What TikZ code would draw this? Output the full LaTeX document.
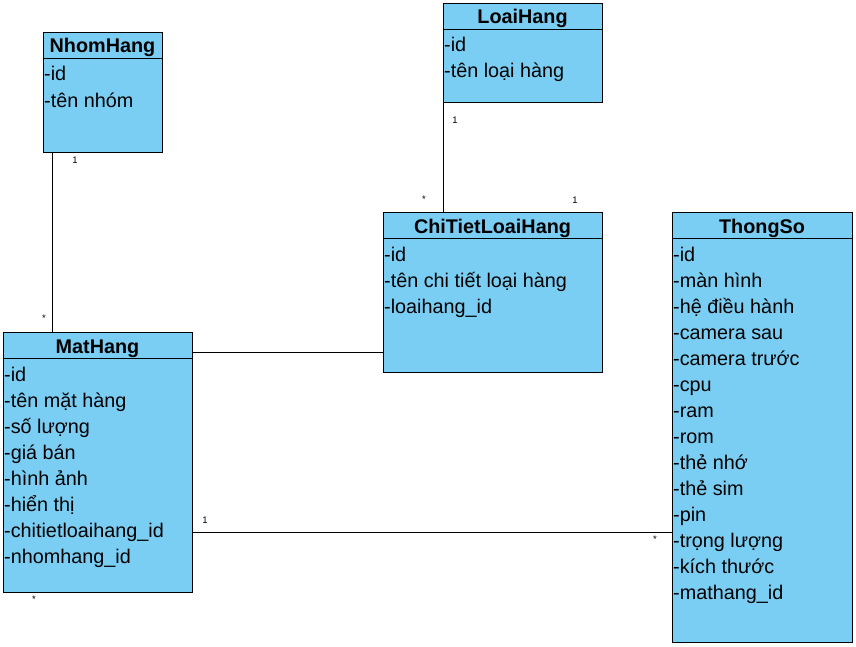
\documentclass[tikz,border=0pt]{standalone}
\usepackage{fontspec}
\setmainfont{Liberation Sans}
\definecolor{boxblue}{RGB}{122,206,244}
\begin{document}
\begin{tikzpicture}[x=1pt,y=-1pt,
  box/.style={draw=black, fill=boxblue, line width=1pt, anchor=north west, inner sep=0pt},
  title/.style={font=\fontsize{19.8}{21}\selectfont\bfseries, inner sep=0pt, anchor=base},
  attr/.style={font=\fontsize{19.8}{21}\selectfont, inner sep=0pt, anchor=base west},
  mult/.style={font=\fontsize{9.5}{10}\selectfont, inner sep=0pt},
  conn/.style={draw=black, line width=1pt}]
\useasboundingbox (0,0) rectangle (856,646);
\fill[white] (0,0) rectangle (856,646);

% NhomHang
\node[box, minimum width=119pt, minimum height=120pt] (nh) at (43,32) {};
\draw[conn] (43,58) -- (162,58);
\node[title] (nht) at (102.5,52) {NhomHang};
\node[attr] (nh1) at (44,80) {-id};
\node[attr] (nh2) at (44,107) {-tên nhóm};

% LoaiHang
\node[box, minimum width=159pt, minimum height=99pt] (lh) at (443,3) {};
\draw[conn] (443,29) -- (602,29);
\node[title] (lht) at (522.5,23) {LoaiHang};
\node[attr] (lh1) at (444,51) {-id};
\node[attr] (lh2) at (444,77) {-tên loại hàng};

% ChiTietLoaiHang
\node[box, minimum width=219pt, minimum height=160pt] (ct) at (383,212) {};
\draw[conn] (383,238) -- (602,238);
\node[title] (ctt) at (492.5,233) {ChiTietLoaiHang};
\node[attr] (ct1) at (384,261) {-id};
\node[attr] (ct2) at (384,287) {-tên chi tiết loại hàng};
\node[attr] (ct3) at (384,313) {-loaihang\_id};

% MatHang
\node[box, minimum width=189pt, minimum height=260pt] (mh) at (3,332) {};
\draw[conn] (3,358) -- (192,358);
\node[title] (mht) at (97.5,353) {MatHang};
\foreach \t [count=\i from 0] in {-id,-tên mặt hàng,-số lượng,-giá bán,-hình ảnh,-hiển thị,-chitietloaihang\_id,-nhomhang\_id}
  \node[attr] (mh\i) at (4,381+26*\i) {\t};

% ThongSo
\node[box, minimum width=180pt, minimum height=430pt] (ts) at (672,212) {};
\draw[conn] (672,238) -- (852,238);
\node[title] (tst) at (762,233) {ThongSo};
\foreach \t [count=\i from 0] in {-id,-màn hình,-hệ điều hành,-camera sau,-camera trước,-cpu,-ram,-rom,-thẻ nhớ,-thẻ sim,-pin,-trọng lượng,-kích thước,-mathang\_id}
  \node[attr] (ts\i) at (673,261+26*\i) {\t};

% connectors
\coordinate (c1) at (52,0);
\coordinate (y1) at (0,352);
\coordinate (y2) at (0,532);
\draw[conn] (nh.south -| c1) -- (mh.north -| c1);
\draw[conn] (lh.south west) -- (lh.south west |- ct.north);
\draw[conn] (mh.east |- y1) -- (ct.west |- y1);
\draw[conn] (mh.east |- y2) -- (ts.west |- y2);

% multiplicities
\node[mult] (m1) at (75,160) {1};
\node[mult] (m2) at (44,318) {*};
\node[mult] (m3) at (455,120) {1};
\node[mult] (m4) at (424,199) {*};
\node[mult] (m5) at (575,200) {1};
\node[mult] (m6) at (205,520) {1};
\node[mult] (m7) at (655,539) {*};
\node[mult] (m8) at (34,599) {*};
\end{tikzpicture}
\end{document}
